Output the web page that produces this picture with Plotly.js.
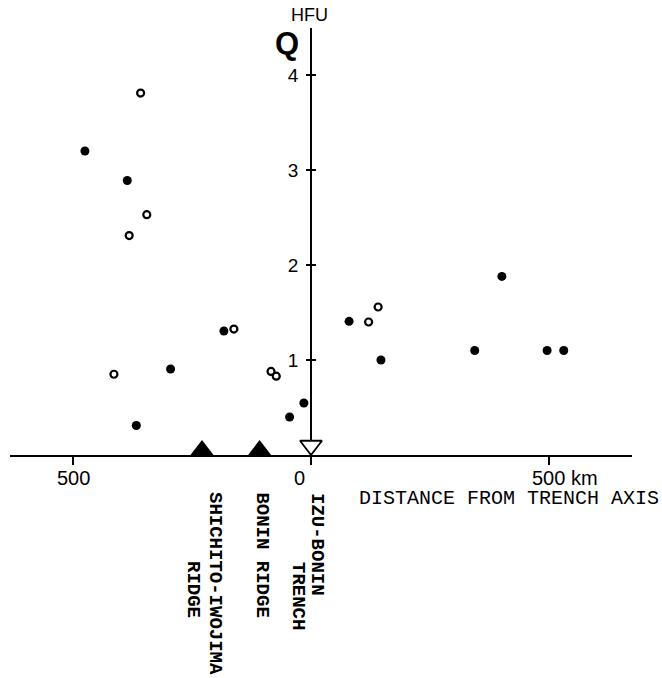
<!DOCTYPE html>
<html>
<head>
<meta charset="utf-8">
<script src="https://cdn.plot.ly/plotly-3.0.1.min.js"></script>
<style>
  html, body { margin: 0; padding: 0; background: #fff; }
  #chart { width: 662px; height: 678px; }
</style>
</head>
<body>
<div id="chart"></div>
<script>
// ---- data (distance from trench axis in km; negative = west / arc side) ----
const filledKm  = [-475, -386, -295, -367, -183, -45, -15, 80, 147, 344, 401, 496, 531];
const filledQ   = [3.20, 2.89, 0.905, 0.31, 1.305, 0.40, 0.547, 1.407, 1.00, 1.10, 1.88, 1.10, 1.10];
const openKm    = [-358, -345, -382, -414, -162, -84, -73, 121, 141];
const openQ     = [3.81, 2.53, 2.31, 0.85, 1.326, 0.88, 0.83, 1.40, 1.558];
const ridgeKm   = [-229, -108];
const trenchKm  = [0];
const xTickVals = [-500, 0, 500];
const xTickText = ["500", "0", "500 km"];
const yTickVals = [1, 2, 3, 4];
const yTickText = ["1", "2", "3", "4"];
const labelLines = ["SHICHITO-IWOJIMA", "RIDGE", "BONIN RIDGE", "IZU-BONIN", "TRENCH"];
const labelKm    = [-229, -229, -108, 0, 0];

// ---- layout geometry ----
const W = 662, H = 678;
const M = {l: 10, r: 30, t: 28, b: 223};
const xRange = [-632.4, 674.4];
const yRange = [0, 4.495];
const plotH = H - M.t - M.b;
const pxPerQ = plotH / (yRange[1] - yRange[0]);
const yAxisPos = (0 - xRange[0]) / (xRange[1] - xRange[0]);

const upSize = 20, downSize = 19;
const mono = "Liberation Mono, Courier New, monospace";
const sans = "Liberation Sans, Arial, Helvetica, sans-serif";

const traces = [
  {
    x: filledKm, y: filledQ, type: 'scatter', mode: 'markers',
    marker: {symbol: 'circle', size: 9, color: '#000'},
    cliponaxis: false, hoverinfo: 'skip', showlegend: false
  },
  {
    x: openKm, y: openQ, type: 'scatter', mode: 'markers',
    marker: {symbol: 'circle', size: 7, color: '#fff', line: {color: '#000', width: 2.2}},
    cliponaxis: false, hoverinfo: 'skip', showlegend: false
  },
  {
    x: ridgeKm, y: ridgeKm.map(() => (upSize / 4) / pxPerQ), type: 'scatter', mode: 'markers',
    marker: {symbol: 'triangle-up', size: upSize, color: '#000'},
    cliponaxis: false, hoverinfo: 'skip', showlegend: false
  },
  {
    x: trenchKm, y: trenchKm.map(() => (downSize / 2) / pxPerQ), type: 'scatter', mode: 'markers',
    marker: {symbol: 'triangle-down', size: downSize, color: '#fff', line: {color: '#000', width: 1.8}},
    cliponaxis: false, hoverinfo: 'skip', showlegend: false
  },
  {
    // empty trace so the overlaid right-hand tick axis is drawn
    x: [], y: [], yaxis: 'y2', type: 'scatter', mode: 'markers',
    hoverinfo: 'skip', showlegend: false
  }
];

const annotations = [];
// x tick labels
const tickShift = [{xa: 'center', xs: 0}, {xa: 'right', xs: -4}, {xa: 'center', xs: 16}];
xTickVals.forEach((v, i) => {
  annotations.push({
    x: v, xref: 'x', y: 0, yref: 'paper', yanchor: 'middle', yshift: -23,
    xanchor: tickShift[i].xa, xshift: tickShift[i].xs,
    text: xTickText[i], showarrow: false,
    font: {family: sans, size: 20, color: '#000'}
  });
});
// axis titles
annotations.push({
  x: 0, xref: 'x', y: 1, yref: 'paper', xanchor: 'center', yanchor: 'middle',
  xshift: -2, yshift: 13, text: 'HFU', showarrow: false,
  font: {family: sans, size: 18, color: '#000'}
});
annotations.push({
  x: 0, xref: 'x', y: 1, yref: 'paper', xanchor: 'center', yanchor: 'middle',
  xshift: -24, yshift: -15, text: '<b>Q</b>', showarrow: false,
  font: {family: sans, size: 31, color: '#000'}
});
annotations.push({
  x: 96.6, xref: 'x', y: 0, yref: 'paper', xanchor: 'left', yanchor: 'middle',
  yshift: -43, text: 'DISTANCE FROM TRENCH AXIS', showarrow: false,
  font: {family: mono, size: 20, color: '#000'}
});
// vertical feature labels
const labShift = [[13, -128], [-9, -134], [2, -100], [6, -89], [-13, -141]];
labelLines.forEach((t, i) => {
  annotations.push({
    x: labelKm[i], xref: 'x', y: 0, yref: 'paper', xanchor: 'center', yanchor: 'middle',
    xshift: labShift[i][0], yshift: labShift[i][1], textangle: 90,
    text: '<b>' + t + '</b>', showarrow: false,
    font: {family: mono, size: 19, color: '#000'}
  });
});

const layout = {
  width: W, height: H,
  margin: M,
  paper_bgcolor: '#fff', plot_bgcolor: '#fff',
  showlegend: false,
  xaxis: {
    range: xRange, showgrid: false, zeroline: false,
    showline: true, linecolor: '#000', linewidth: 2,
    ticks: 'outside', ticklen: 8, tickwidth: 2, tickcolor: '#000',
    tickvals: xTickVals, ticktext: xTickText, showticklabels: false,
    layer: 'below traces'
  },
  yaxis: {
    range: yRange, showgrid: false, zeroline: false,
    anchor: 'free', position: yAxisPos,
    showline: true, linecolor: '#000', linewidth: 2,
    ticks: 'outside', ticklen: 4, tickwidth: 1.5, tickcolor: '#000',
    tickvals: yTickVals, ticktext: yTickText, ticklabelstandoff: 4,
    tickfont: {family: sans, size: 19, color: '#000'},
    layer: 'below traces'
  },
  yaxis2: {
    range: yRange, overlaying: 'y', showgrid: false, zeroline: false,
    anchor: 'free', position: yAxisPos, side: 'right',
    showline: false, ticks: 'outside', ticklen: 4, tickwidth: 1.5, tickcolor: '#000',
    tickvals: yTickVals, showticklabels: false,
    layer: 'below traces'
  },
  annotations: annotations
};

Plotly.newPlot('chart', traces, layout, {staticPlot: true, displayModeBar: false});
</script>
</body>
</html>
